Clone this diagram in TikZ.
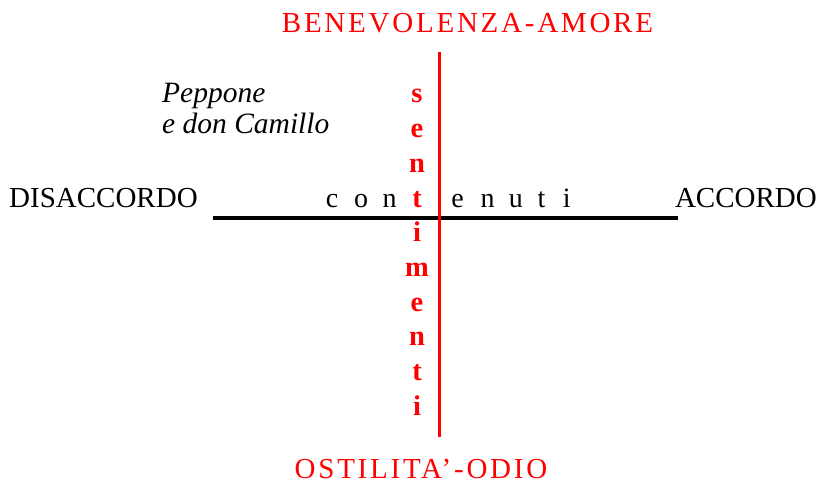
\documentclass[tikz,border=0pt]{standalone}
\usepackage{fontspec}
\setmainfont{Liberation Serif}
\definecolor{pured}{RGB}{255,0,0}
\begin{document}
\begin{tikzpicture}[x=1pt,y=-1pt,
  lbl/.style={inner sep=0pt,anchor=base,font=\fontsize{29}{34}\selectfont},
  redlbl/.style={lbl,text=pured},
  vlet/.style={inner sep=0pt,anchor=base,text=pured,font=\fontsize{28.5}{34}\selectfont\bfseries},
  hlet/.style={inner sep=0pt,anchor=base,font=\fontsize{28}{34}\selectfont}]
\useasboundingbox (0,0) rectangle (819,486);
% axes
\coordinate (hl) at (212.5,218.5);
\coordinate (hr) at (677.5,218.5);
\coordinate (vt) at (439.3,52);
\coordinate (vb) at (439.3,437);
\draw[line width=4pt] (hl) -- (hr);
\draw[pured,line width=3.5pt] (vt) -- (vb);
% labels
\node[redlbl] (top) at (467.5,33) {\addfontfeature{LetterSpace=9.5}BENEVOLENZA-AMORE};
\node[redlbl,text depth=0pt] (bot) at (421,478) {\addfontfeature{LetterSpace=9.5}OSTILITA’-ODIO};
\node[lbl,anchor=base west] (dis) at (9,208) {DISACCORDO};
\node[lbl,anchor=base east] (acc) at (817,208) {ACCORDO};
\node[lbl,anchor=base west,align=left,font=\fontsize{29.5}{31}\selectfont\itshape] (pep) at (162,134) {Peppone\\e don Camillo};
% contenuti
\foreach \ch/\xx [count=\i] in {c/332,o/361,n/389.6,e/457.5,n/487.5,u/515.8,t/541.6,i/566.7}
  \node[hlet] (h\i) at (\xx,208) {\ch};
% sentimenti
\foreach \ch/\yy [count=\i] in {s/103,e/137.7,n/172.4,t/207.1,i/241.8,m/276.5,e/311.2,n/345.9,t/380.6,i/415.3}
  \node[vlet] (v\i) at (417,\yy) {\ch};
\end{tikzpicture}
\end{document}
